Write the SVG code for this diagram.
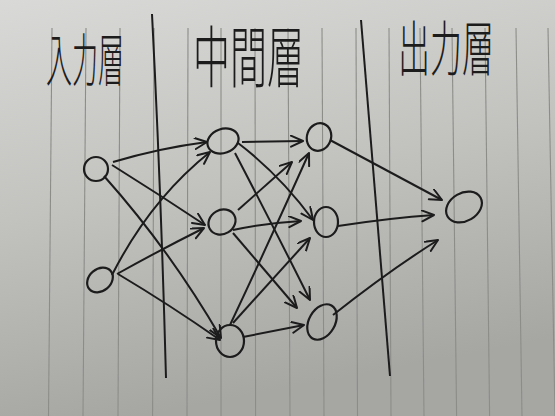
<svg xmlns="http://www.w3.org/2000/svg" width="555" height="416" viewBox="0 0 555 416">
<defs>
<linearGradient id="paper" x1="0" y1="0" x2="0.25" y2="1">
<stop offset="0" stop-color="#d9d9d7"/>
<stop offset="0.5" stop-color="#c2c2bf"/>
<stop offset="1" stop-color="#a6a6a3"/>
</linearGradient>
<marker id="ah" markerUnits="userSpaceOnUse" markerWidth="16" markerHeight="14" refX="13" refY="6" orient="auto">
<path d="M1,0.5 L13,6 L1,11.5" fill="none" stroke="#1c1c1c" stroke-width="2" stroke-linecap="round" stroke-linejoin="round"/>
</marker>
</defs>
<style>
.rule{stroke:#8c8c89;stroke-width:1.1}
.div{fill:none;stroke:#1c1c1c;stroke-width:2}
.node{fill:none;stroke:#1c1c1c;stroke-width:2.2}
.edge{fill:none;stroke:#1c1c1c;stroke-width:2;marker-end:url(#ah)}
.lbl{font-family:"Noto Sans CJK JP","Noto Sans CJK SC",sans-serif;fill:#1c1c1c;font-weight:300}
</style>
<rect width="555" height="416" fill="url(#paper)"/>
<g id="ruled">
<line class="rule" x1="52" y1="28" x2="48.5" y2="416"/>
<line class="rule" x1="86" y1="28" x2="83" y2="416"/>
<line class="rule" x1="120" y1="28" x2="118" y2="416"/>
<line class="rule" x1="154" y1="28" x2="152.6" y2="416"/>
<line class="rule" x1="188" y1="28" x2="187" y2="416"/>
<line class="rule" x1="221" y1="28" x2="221" y2="416"/>
<line class="rule" x1="255" y1="28" x2="255.6" y2="416"/>
<line class="rule" x1="288" y1="28" x2="290" y2="416"/>
<line class="rule" x1="322" y1="28" x2="324" y2="416"/>
<line class="rule" x1="356" y1="28" x2="357.5" y2="416"/>
<line class="rule" x1="389" y1="28" x2="391" y2="416"/>
<line class="rule" x1="420" y1="28" x2="424" y2="416"/>
<line class="rule" x1="452" y1="28" x2="456.6" y2="416"/>
<line class="rule" x1="485" y1="28" x2="489.6" y2="416"/>
<line class="rule" x1="516" y1="28" x2="522" y2="416"/>
<line class="rule" x1="548" y1="28" x2="555" y2="416"/>
</g>
<g id="dividers">
<path class="div" d="M152,14 Q161,190 166,378"/>
<path class="div" d="M361,20 Q375,200 390,376"/>
</g>
<g id="labels">
<text class="lbl" transform="translate(46,81) scale(1,1.9)" font-size="30" textLength="78" lengthAdjust="spacingAndGlyphs">入力層</text>
<text class="lbl" transform="translate(193,82) scale(1,1.85)" font-size="36" textLength="111" lengthAdjust="spacingAndGlyphs">中間層</text>
<text class="lbl" transform="translate(398,71) scale(1,1.9)" font-size="32" textLength="96" lengthAdjust="spacingAndGlyphs">出力層</text>
</g>
<g id="connectors">
<path class="edge" d="M113,162 Q160,148 207,142"/>
<path class="edge" d="M112,165 Q160,195 205,225"/>
<path class="edge" d="M104,176 Q170,250 221,338"/>
<path class="edge" d="M112,275 Q150,200 210,152"/>
<path class="edge" d="M117,274 Q160,250 204,228"/>
<path class="edge" d="M118,274 Q170,305 220,340"/>
<path class="edge" d="M242,142 L303,141"/>
<path class="edge" d="M238,143 Q280,175 313,220"/>
<path class="edge" d="M235,153 Q270,220 310,300"/>
<path class="edge" d="M238,210 L292,162"/>
<path class="edge" d="M233,230 Q265,223 301,221"/>
<path class="edge" d="M233,233 L297,308"/>
<path class="edge" d="M230,325 Q270,240 309,153"/>
<path class="edge" d="M233,323 L310,238"/>
<path class="edge" d="M243,337 L304,325"/>
<path class="edge" d="M330,140 L442,200"/>
<path class="edge" d="M338,226 Q390,218 434,215"/>
<path class="edge" d="M333,315 Q390,270 438,240"/>
</g>
<g id="in1"><ellipse class="node" cx="96" cy="169" rx="12" ry="12"/></g>
<g id="in2"><ellipse class="node" cx="100" cy="280" rx="14" ry="11" transform="rotate(-40 100 280)"/></g>
<g id="h1"><ellipse class="node" cx="223" cy="141" rx="16" ry="12" transform="rotate(-20 223 141)"/></g>
<g id="h2"><ellipse class="node" cx="222" cy="222" rx="14" ry="12" transform="rotate(-30 222 222)"/></g>
<g id="h3"><ellipse class="node" cx="230" cy="341" rx="14" ry="16"/></g>
<g id="c1"><ellipse class="node" cx="319" cy="137" rx="12" ry="14" transform="rotate(20 319 137)"/></g>
<g id="c2"><ellipse class="node" cx="326" cy="222" rx="12" ry="15"/></g>
<g id="c3"><ellipse class="node" cx="322" cy="322" rx="13" ry="19" transform="rotate(30 322 322)"/></g>
<g id="out"><ellipse class="node" cx="464" cy="207" rx="19" ry="14" transform="rotate(-30 464 207)"/></g>
</svg>
